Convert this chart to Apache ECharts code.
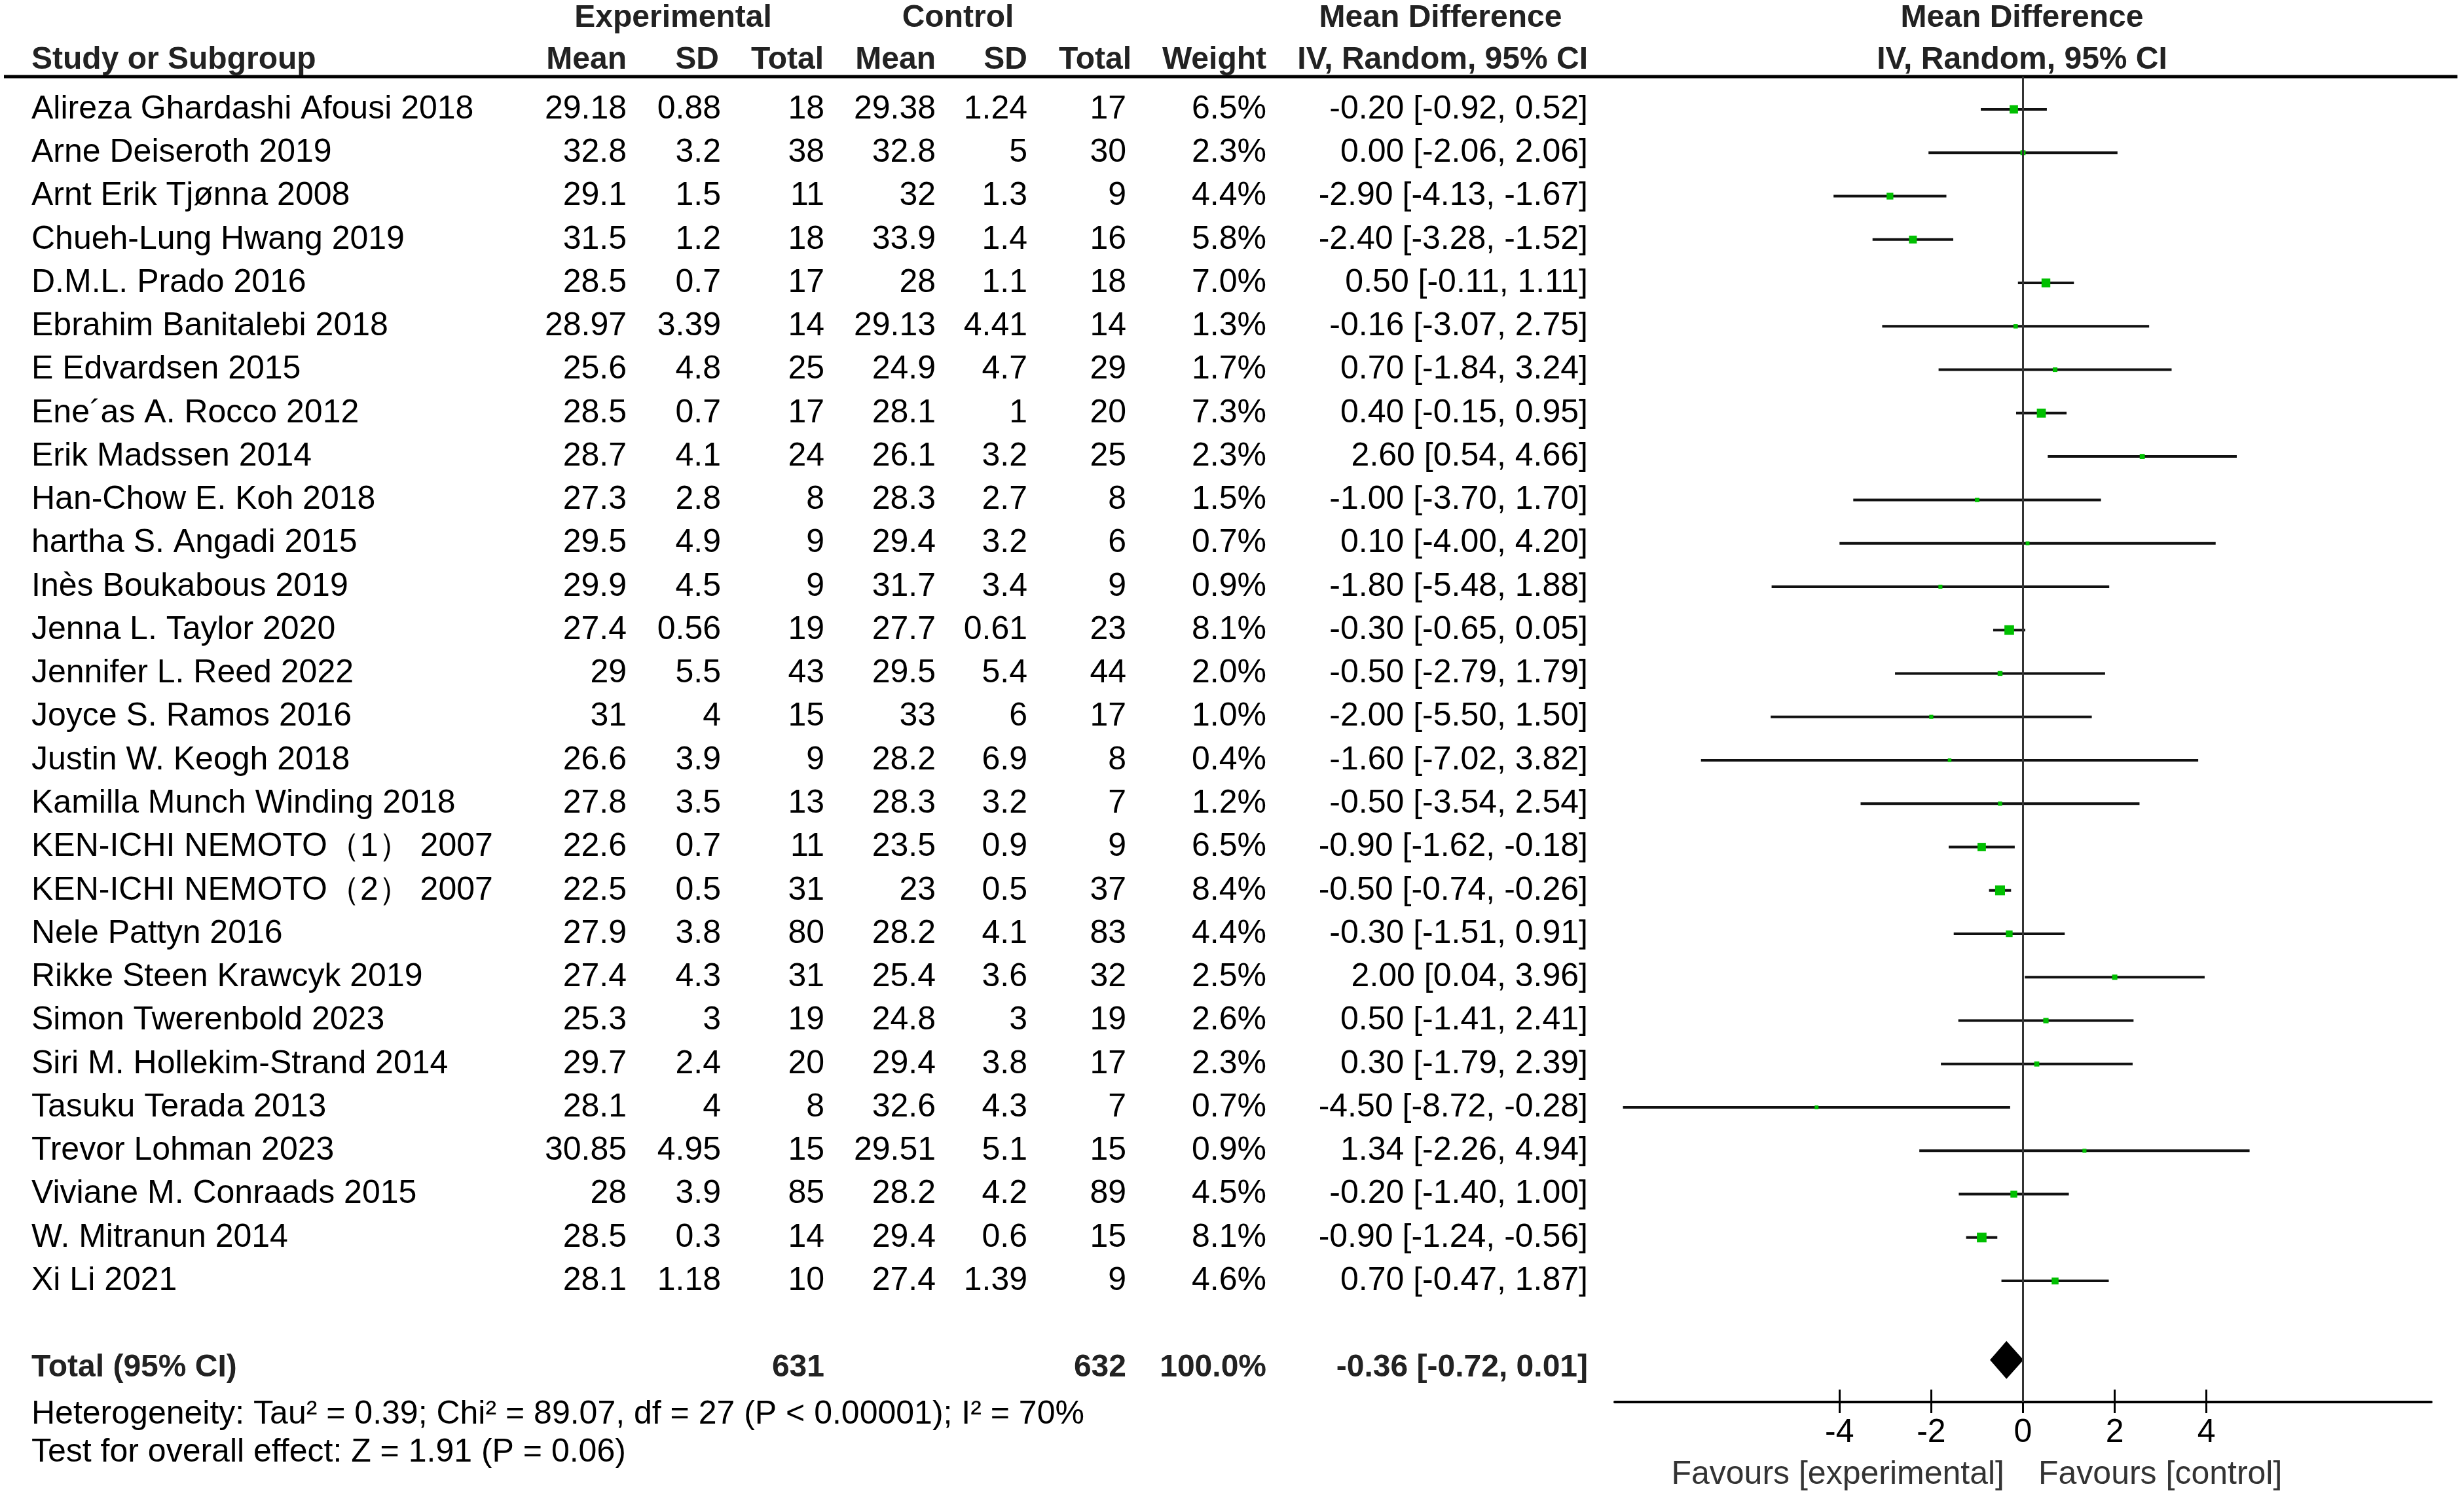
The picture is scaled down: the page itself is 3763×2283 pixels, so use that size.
<!DOCTYPE html>
<html>
<head>
<meta charset="utf-8">
<script src="https://cdn.jsdelivr.net/npm/echarts@6/dist/echarts.min.js"></script>
<style>
  html, body { margin: 0; padding: 0; background: #ffffff; }
  #chart { width: 3763px; height: 2283px; }
</style>
</head>
<body>
<div id="chart"></div>
<script>
// forest plot: mean difference, IV random 95% CI
var studies = [
    "Alireza Ghardashi Afousi 2018", "Arne Deiseroth 2019", "Arnt Erik Tjønna 2008",
    "Chueh-Lung Hwang 2019", "D.M.L. Prado 2016", "Ebrahim Banitalebi 2018",
    "E Edvardsen 2015", "Ene´as A. Rocco 2012", "Erik Madssen 2014",
    "Han-Chow E. Koh 2018", "hartha S. Angadi 2015", "Inès Boukabous 2019",
    "Jenna L. Taylor 2020", "Jennifer L. Reed 2022", "Joyce S. Ramos 2016",
    "Justin W. Keogh 2018", "Kamilla Munch Winding 2018", "KEN-ICHI NEMOTO（1） 2007",
    "KEN-ICHI NEMOTO（2） 2007", "Nele Pattyn 2016", "Rikke Steen Krawcyk 2019",
    "Simon Twerenbold 2023", "Siri M. Hollekim-Strand 2014", "Tasuku Terada 2013",
    "Trevor Lohman 2023", "Viviane M. Conraads 2015", "W. Mitranun 2014", "Xi Li 2021"
];
var expMean = [29.18, 32.8, 29.1, 31.5, 28.5, 28.97, 25.6, 28.5, 28.7, 27.3, 29.5, 29.9, 27.4, 29,
    31, 26.6, 27.8, 22.6, 22.5, 27.9, 27.4, 25.3, 29.7, 28.1, 30.85, 28, 28.5, 28.1];
var expSD = [0.88, 3.2, 1.5, 1.2, 0.7, 3.39, 4.8, 0.7, 4.1, 2.8, 4.9, 4.5, 0.56, 5.5,
    4, 3.9, 3.5, 0.7, 0.5, 3.8, 4.3, 3, 2.4, 4, 4.95, 3.9, 0.3, 1.18];
var expN = [18, 38, 11, 18, 17, 14, 25, 17, 24, 8, 9, 9, 19, 43,
    15, 9, 13, 11, 31, 80, 31, 19, 20, 8, 15, 85, 14, 10];
var ctlMean = [29.38, 32.8, 32, 33.9, 28, 29.13, 24.9, 28.1, 26.1, 28.3, 29.4, 31.7, 27.7, 29.5,
    33, 28.2, 28.3, 23.5, 23, 28.2, 25.4, 24.8, 29.4, 32.6, 29.51, 28.2, 29.4, 27.4];
var ctlSD = [1.24, 5, 1.3, 1.4, 1.1, 4.41, 4.7, 1, 3.2, 2.7, 3.2, 3.4, 0.61, 5.4,
    6, 6.9, 3.2, 0.9, 0.5, 4.1, 3.6, 3, 3.8, 4.3, 5.1, 4.2, 0.6, 1.39];
var ctlN = [17, 30, 9, 16, 18, 14, 29, 20, 25, 8, 6, 9, 23, 44,
    17, 8, 7, 9, 37, 83, 32, 19, 17, 7, 15, 89, 15, 9];
var weights = [6.5, 2.3, 4.4, 5.8, 7.0, 1.3, 1.7, 7.3, 2.3, 1.5, 0.7, 0.9, 8.1, 2.0,
    1.0, 0.4, 1.2, 6.5, 8.4, 4.4, 2.5, 2.6, 2.3, 0.7, 0.9, 4.5, 8.1, 4.6];
var md = [-0.20, 0.00, -2.90, -2.40, 0.50, -0.16, 0.70, 0.40, 2.60, -1.00, 0.10, -1.80, -0.30, -0.50,
    -2.00, -1.60, -0.50, -0.90, -0.50, -0.30, 2.00, 0.50, 0.30, -4.50, 1.34, -0.20, -0.90, 0.70];
var ciLow = [-0.92, -2.06, -4.13, -3.28, -0.11, -3.07, -1.84, -0.15, 0.54, -3.70, -4.00, -5.48, -0.65, -2.79,
    -5.50, -7.02, -3.54, -1.62, -0.74, -1.51, 0.04, -1.41, -1.79, -8.72, -2.26, -1.40, -1.24, -0.47];
var ciHigh = [0.52, 2.06, -1.67, -1.52, 1.11, 2.75, 3.24, 0.95, 4.66, 1.70, 4.20, 1.88, 0.05, 1.79,
    1.50, 3.82, 2.54, -0.18, -0.26, 0.91, 3.96, 2.41, 2.39, -0.28, 4.94, 1.00, -0.56, 1.87];

var totalExpN = 631;
var totalCtlN = 632;
var totalWeight = 100.0;
var totalMd = -0.36;
var totalLow = -0.72;
var totalHigh = 0.01;

var xTicks = [-4, -2, 0, 2, 4];
var heterogeneityText = "Heterogeneity: Tau² = 0.39; Chi² = 89.07, df = 27 (P < 0.00001); I² = 70%";
var overallText = "Test for overall effect: Z = 1.91 (P = 0.06)";

var FONT = '"Liberation Sans", Arial, sans-serif';
var REG = "50px " + FONT;
var BOLD = "bold 48px " + FONT;
var TOTAL_ROW = 29;

// column anchors for the table part
var cols = [
    { x: 48, align: "left" },
    { x: 957, align: "right" },
    { x: 1101, align: "right" },
    { x: 1259, align: "right" },
    { x: 1429, align: "right" },
    { x: 1569, align: "right" },
    { x: 1720, align: "right" },
    { x: 1934, align: "right" },
    { x: 2425, align: "right" }
];

function ciText(m, lo, hi) {
    return m.toFixed(2) + " [" + lo.toFixed(2) + ", " + hi.toFixed(2) + "]";
}

var rowCells = studies.map(function (name, i) {
    return [name, String(expMean[i]), String(expSD[i]), String(expN[i]),
        String(ctlMean[i]), String(ctlSD[i]), String(ctlN[i]),
        weights[i].toFixed(1) + "%", ciText(md[i], ciLow[i], ciHigh[i])];
});
rowCells.push(["Total (95% CI)", "", "", String(totalExpN), "", "", String(totalCtlN),
    totalWeight.toFixed(1) + "%", ciText(totalMd, totalLow, totalHigh)]);

var tableData = rowCells.map(function (c, i) {
    return [0, i < studies.length ? i : TOTAL_ROW];
});

var forestData = studies.map(function (s, i) {
    return [md[i], i, ciLow[i], ciHigh[i], weights[i]];
});

var chart = echarts.init(document.getElementById("chart"), null, { renderer: "canvas" });

function txt(text, x, y, align, font, fill) {
    return {
        type: "text",
        x: x,
        y: y,
        silent: true,
        style: {
            text: text, font: font, fill: fill || "#000",
            align: align, textAlign: align,
            verticalAlign: "middle", textVerticalAlign: "middle"
        }
    };
}

var option = {
    backgroundColor: "#ffffff",
    animation: false,
    grid: [
        { left: 0, top: 117, width: 3763, height: 2024 },
        { left: 2466, top: 117, width: 1247, height: 2024 }
    ],
    xAxis: [
        { gridIndex: 0, type: "value", min: 0, max: 3763, show: false },
        {
            gridIndex: 1, type: "value", min: -8.9, max: 8.9, position: "bottom",
            splitLine: { show: false },
            axisLine: { show: true, onZero: false, lineStyle: { color: "#000", width: 4 } },
            axisTick: { show: true, customValues: xTicks, length: 17, lineStyle: { color: "#000", width: 3 } },
            axisLabel: {
                show: true, customValues: xTicks, margin: 22,
                fontSize: 50, fontFamily: FONT, color: "#000"
            }
        },
        {
            gridIndex: 1, type: "value", min: -8.9, max: 8.9, position: "bottom", offset: 0,
            splitLine: { show: false },
            axisLine: { show: false, onZero: false },
            axisTick: { show: true, inside: true, customValues: xTicks, length: 19, lineStyle: { color: "#000", width: 3 } },
            axisLabel: { show: false }
        }
    ],
    yAxis: [
        { gridIndex: 0, type: "value", min: -0.7546, max: 29.79, inverse: true, show: false },
        { gridIndex: 1, type: "value", min: -0.7546, max: 29.79, inverse: true, show: false }
    ],
    series: [
        {
            type: "custom",
            xAxisIndex: 0,
            yAxisIndex: 0,
            silent: true,
            data: tableData,
            renderItem: function (params, api) {
                var y = api.coord([0, api.value(1)])[1];
                var cells = rowCells[params.dataIndex];
                var isTotal = params.dataIndex >= studies.length;
                return {
                    type: "group",
                    children: cols.map(function (c, k) {
                        return txt(cells[k], c.x, y, c.align, isTotal ? BOLD : REG, isTotal ? "#222" : "#000");
                    })
                };
            }
        },
        {
            type: "custom",
            xAxisIndex: 1,
            yAxisIndex: 1,
            silent: true,
            data: forestData,
            encode: { x: 0, y: 1 },
            renderItem: function (params, api) {
                var row = api.value(1);
                var p0 = api.coord([api.value(2), row]);
                var p1 = api.coord([api.value(3), row]);
                var c = api.coord([api.value(0), row]);
                var s = 5 + api.value(4) * 1.2;
                return {
                    type: "group",
                    children: [
                        {
                            type: "line",
                            shape: { x1: p0[0], y1: p0[1], x2: p1[0], y2: p1[1] },
                            style: { stroke: "#111", lineWidth: 4 }
                        },
                        {
                            type: "rect",
                            shape: { x: c[0] - s / 2, y: c[1] - s / 2, width: s, height: s },
                            style: { fill: "#00bf00" }
                        }
                    ]
                };
            },
            markLine: {
                silent: true,
                symbol: ["none", "none"],
                label: { show: false },
                lineStyle: { color: "#333", width: 3, type: "solid" },
                data: [{ xAxis: 0 }]
            }
        },
        {
            type: "custom",
            xAxisIndex: 1,
            yAxisIndex: 1,
            silent: true,
            data: [[totalMd, TOTAL_ROW, totalLow, totalHigh]],
            encode: { x: 0, y: 1 },
            renderItem: function (params, api) {
                var row = api.value(1);
                var l = api.coord([api.value(2), row]);
                var r = api.coord([api.value(3), row]);
                var m = api.coord([api.value(0), row]);
                var cy = m[1] - 12;
                var h = 29;
                return {
                    type: "polygon",
                    shape: { points: [[l[0], cy], [m[0], cy - h], [r[0], cy], [m[0], cy + h]] },
                    style: { fill: "#000" }
                };
            }
        }
    ],
    graphic: [
        {
            type: "line", silent: true,
            shape: { x1: 6, y1: 117, x2: 3753, y2: 117 },
            style: { stroke: "#000", lineWidth: 5 }
        },
        txt("Experimental", 1028, 28, "center", BOLD, "#222"),
        txt("Control", 1463, 28, "center", BOLD, "#222"),
        txt("Mean Difference", 2200, 28, "center", BOLD, "#222"),
        txt("Mean Difference", 3088, 28, "center", BOLD, "#222"),
        txt("Study or Subgroup", 48, 92, "left", BOLD, "#222"),
        txt("Mean", 957, 92, "right", BOLD, "#222"),
        txt("SD", 1098, 92, "right", BOLD, "#222"),
        txt("Total", 1258, 92, "right", BOLD, "#222"),
        txt("Mean", 1429, 92, "right", BOLD, "#222"),
        txt("SD", 1569, 92, "right", BOLD, "#222"),
        txt("Total", 1728, 92, "right", BOLD, "#222"),
        txt("Weight", 1934, 92, "right", BOLD, "#222"),
        txt("IV, Random, 95% CI", 2425, 92, "right", BOLD, "#222"),
        txt("IV, Random, 95% CI", 3088, 92, "center", BOLD, "#222"),
        txt(heterogeneityText, 48, 2160, "left", REG, "#000"),
        txt(overallText, 48, 2218, "left", REG, "#000"),
        txt("Favours [experimental]", 3061, 2252, "right", REG, "#333"),
        txt("Favours [control]", 3113, 2252, "left", REG, "#333")
    ]
};

chart.setOption(option);
</script>
</body>
</html>
